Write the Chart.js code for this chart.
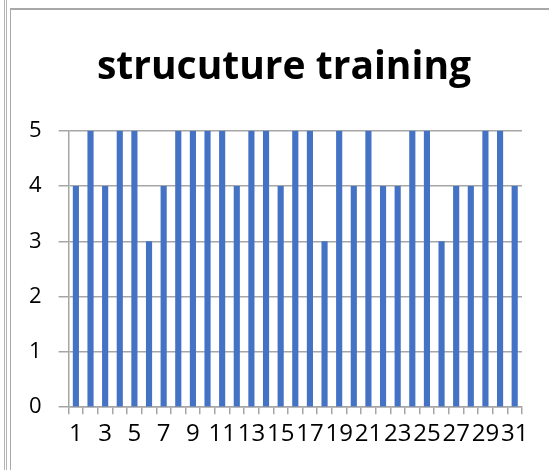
<!DOCTYPE html>
<html>
<head>
<meta charset="utf-8">
<script src="https://cdn.jsdelivr.net/npm/chart.js@4/dist/chart.umd.min.js"></script>
<style>
  html, body { margin: 0; padding: 0; background: #fff; }
  #wrap { position: relative; width: 549px; height: 470px; overflow: hidden; }
  canvas { position: absolute; left: 0; top: 0; }
  .vl { position: absolute; top: 0; bottom: 0; width: 1px; background: #b4b4b4; }
  .frame { position: absolute; left: 10px; top: 8px; right: -5px; bottom: -5px; border-left: 1px solid #a8a8a8; border-top: 2px solid #a8a8a8; }
</style>
</head>
<body>
<div id="wrap">
  <div class="vl" style="left:4px"></div>
  <div class="vl" style="left:6px"></div>
  <div class="frame"></div>
  <canvas id="c" width="549" height="470"></canvas>
</div>
<script>
const title = "strucuture training";
const categories = ["1","2","3","4","5","6","7","8","9","10","11","12","13","14","15","16","17","18","19","20","21","22","23","24","25","26","27","28","29","30","31"];
const values = [4,5,4,5,5,3,4,5,5,5,5,4,5,5,4,5,5,3,5,4,5,4,4,5,5,3,4,4,5,5,4];
const yTicks = [0,1,2,3,4,5];

const gridColor = '#a6a6a6';

// center the title over the same span as in the reference
const titleShift = {
  id: 'titleShift',
  afterLayout(chart) {
    if (chart.titleBlock) { chart.titleBlock.left = 46; }
  }
};

new Chart(document.getElementById('c'), {
  type: 'bar',
  data: {
    labels: categories,
    datasets: [{
      data: values,
      backgroundColor: '#4472C4',
      borderWidth: 0,
      categoryPercentage: 1,
      barPercentage: 0.42
    }]
  },
  plugins: [titleShift],
  options: {
    responsive: false,
    animation: false,
    events: [],
    layout: { padding: { top: 34, right: 27, bottom: 15, left: 12 } },
    plugins: {
      legend: { display: false },
      tooltip: { enabled: false },
      title: {
        display: true,
        text: title,
        color: '#000',
        font: { family: 'Open Sans', size: 39, weight: 'bold' },
        padding: { top: 10, bottom: 40 }
      }
    },
    scales: {
      x: {
        grid: { drawOnChartArea: false, drawTicks: true, tickLength: 7, offset: true, color: gridColor, lineWidth: 1.5 },
        border: { display: true, color: gridColor, width: 1.5 },
        ticks: {
          autoSkip: false, maxRotation: 0, minRotation: 0, padding: 6,
          color: '#000',
          font: { family: 'Open Sans', size: 24 },
          callback: function(v, i) { return i % 2 === 0 ? categories[i] : ''; }
        }
      },
      y: {
        min: 0, max: 5,
        afterBuildTicks: function(axis) { axis.ticks = yTicks.map(v => ({ value: v })); },
        grid: { color: gridColor, lineWidth: 1.5, drawTicks: true, tickLength: 10 },
        border: { display: true, color: gridColor, width: 1.5 },
        ticks: {
          padding: 17,
          color: '#000',
          font: { family: 'Open Sans', size: 22 }
        }
      }
    }
  }
});
</script>
</body>
</html>
